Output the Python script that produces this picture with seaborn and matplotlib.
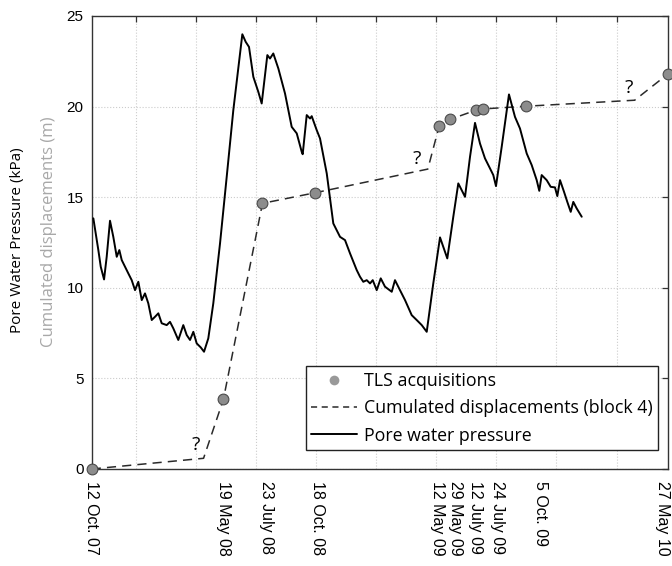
import matplotlib
matplotlib.use('Agg')
import matplotlib.pyplot as plt
from matplotlib.lines import Line2D
import pandas as pd
import seaborn as sns

# x values are days since 12 Oct. 2007
pwp_day = [2.7, 11.0, 15.0, 20.5, 24.9, 30.4, 35.9, 41.6, 45.9, 49.9, 55.4, 60.9, 66.5, 72.0,
           77.5, 83.2, 88.6, 94.1, 99.8, 105.3, 110.8, 116.4, 124.7, 130.2, 135.7, 144.0,
           152.3, 158.0, 163.5, 169.0, 174.6, 181.3, 186.8, 193.9, 202.2, 213.4, 224.5, 235.5,
           250.5, 256.1, 261.6, 268.8, 277.1, 282.7, 292.1, 296.5, 302.0, 310.4, 321.5, 332.6,
           341.0, 349.3, 350.9, 357.6, 363.1, 365.9, 374.2, 379.7, 390.9, 401.8, 413.0, 421.3,
           429.6, 440.7, 446.2, 451.7, 457.4, 462.9, 467.4, 474.0, 480.7, 487.8, 499.0, 504.4,
           512.7, 521.1, 532.2, 540.5, 548.9, 557.2, 568.1, 579.3, 591.4, 601.4, 609.7, 620.9,
           629.2, 637.5, 645.8, 654.1, 662.4, 667.9, 672.4, 681.9, 694.0, 704.0, 712.3, 723.5,
           731.8, 740.1, 744.4, 748.4, 756.7, 763.4, 770.5, 774.4, 778.9, 785.5, 791.0, 796.7,
           801.0, 806.6, 815.0]
pwp_kpa = [13.83, 12.08, 11.16, 10.46, 11.71, 13.70, 12.81, 11.71, 12.08, 11.53, 11.16, 10.79,
           10.42, 9.87, 10.33, 9.32, 9.69, 9.14, 8.22, 8.40, 8.59, 8.04, 7.94, 8.12, 7.76, 7.12,
           7.94, 7.39, 7.12, 7.57, 6.93, 6.71, 6.47, 7.21, 9.14, 12.45, 16.12, 19.80,
           23.99, 23.57, 23.29, 21.64, 20.81, 20.17, 22.84, 22.65, 22.93, 22.10, 20.72, 18.88,
           18.52, 17.50, 17.37, 19.53, 19.34, 19.47, 18.70, 18.24, 16.31, 13.55, 12.81, 12.63,
           11.90, 10.98, 10.61, 10.33, 10.42, 10.24, 10.42, 9.87, 10.52, 10.06, 9.78, 10.42,
           9.87, 9.32, 8.49, 8.22, 7.94, 7.57, 10.24, 12.78, 11.62, 13.92, 15.76, 15.02,
           17.23, 19.10, 17.96, 17.14, 16.59, 16.22, 15.61, 17.78, 20.67, 19.43, 18.79, 17.41,
           16.77, 15.94, 15.35, 16.22, 15.94, 15.57, 15.54, 15.06, 15.94, 15.30, 14.74, 14.19,
           14.74, 14.38, 13.92]

disp_day = [0, 186, 219, 284, 371, 559, 578, 596, 639, 651, 723, 903, 958]
disp_m = [0.0, 0.59, 3.84, 14.66, 15.24, 16.55, 18.94, 19.29, 19.80, 19.87, 20.02, 20.35, 21.79]

tls_day = [0, 219, 284, 371, 578, 596, 639, 651, 723, 958]
tls_m = [0.0, 3.84, 14.66, 15.24, 18.94, 19.29, 19.80, 19.87, 20.02, 21.79]

date_label_day = [0, 220, 291, 375, 575, 605, 639, 675, 746, 950]
date_labels = ['12 Oct. 07', '19 May 08', '23 July 08', '18 Oct. 08', '12 May 09',
               '29 May 09', '12 July 09', '24 July 09', '5 Oct. 09', '27 May 10']
grid_day = [73, 173, 273, 373, 473, 573, 673, 773, 873]
y_ticks = [0, 5, 10, 15, 20, 25]

question_day = [174, 541, 894]
question_val = [1.3, 17.1, 21.0]

sns.set_style('white')
plt.rcParams['font.family'] = ['Liberation Sans', 'DejaVu Sans']
plt.rcParams['axes.edgecolor'] = '#333333'
plt.rcParams['axes.linewidth'] = 1.0
plt.rcParams['text.color'] = 'black'
plt.rcParams['xtick.color'] = 'black'
plt.rcParams['ytick.color'] = 'black'

fig = plt.figure(figsize=(6.72, 5.66), dpi=100)
ax = fig.add_axes([0.1365, 0.1714, 0.8571, 0.8004])

pwp = pd.DataFrame({'day': pwp_day, 'kpa': pwp_kpa})
disp = pd.DataFrame({'day': disp_day, 'm': disp_m})
tls = pd.DataFrame({'day': tls_day, 'm': tls_m})

sns.lineplot(data=disp, x='day', y='m', sort=False, estimator=None, ax=ax, legend=False,
             color='#2a2a2a', lw=1.1, linestyle=(0, (6, 4)), zorder=3)
sns.lineplot(data=pwp, x='day', y='kpa', sort=False, estimator=None, ax=ax, legend=False,
             color='black', lw=1.4, zorder=4)
sns.scatterplot(data=tls, x='day', y='m', ax=ax, legend=False, s=60, color='#8c8c8c',
                edgecolor='#4a4a4a', linewidth=0.8, zorder=6, clip_on=False)

for d, v in zip(question_day, question_val):
    ax.text(d, v, '?', fontsize=14, family='Open Sans', color='black',
            ha='center', va='center', zorder=5)

ax.set_xlim(0, 958)
ax.set_ylim(0, 25)
ax.set_xticks(grid_day)
ax.set_xticklabels([])
ax.set_xticks(date_label_day, labels=date_labels, minor=True)
ax.set_yticks(y_ticks)
ax.tick_params(axis='both', which='major', direction='in', length=4, width=0.9,
               color='#333333', top=True, right=True, labelsize=11, pad=6,
               labelcolor='black')
ax.tick_params(axis='x', which='minor', length=0, pad=9, labelrotation=-90, labelsize=11.5,
               labelcolor='black')
ax.grid(which='major', linestyle=':', color='#cccccc', linewidth=0.8)
ax.grid(which='minor', visible=False)
ax.set_xlabel('')
ax.set_ylabel('')

fig.text(0.026, 0.576, 'Pore Water Pressure (kPa)', rotation=90, ha='center', va='center',
         fontsize=11, family='Open Sans', color='black')
fig.text(0.073, 0.590, 'Cumulated displacements (m)', rotation=90, ha='center', va='center',
         fontsize=12, family='Open Sans', color='#a8a8a8')

handles = [Line2D([], [], marker='o', linestyle='none', color='#999999', markersize=7,
                  markeredgecolor='none'),
           Line2D([], [], color='#2a2a2a', lw=1.1, linestyle=(0, (4, 3))),
           Line2D([], [], color='black', lw=1.4)]
labels = ['TLS acquisitions', 'Cumulated displacements (block 4)', 'Pore water pressure']
leg = ax.legend(handles, labels, loc='lower right', bbox_to_anchor=(0.9837, 0.042),
                borderaxespad=0, prop={'family': 'Open Sans', 'size': 12.8},
                frameon=True, fancybox=False, framealpha=1, edgecolor='#222222',
                handlelength=2.6, handletextpad=0.4, labelspacing=0.53, borderpad=0.3)
leg.get_frame().set_linewidth(1.0)
leg.set_zorder(10)

fig.savefig('out.png', dpi=100)
